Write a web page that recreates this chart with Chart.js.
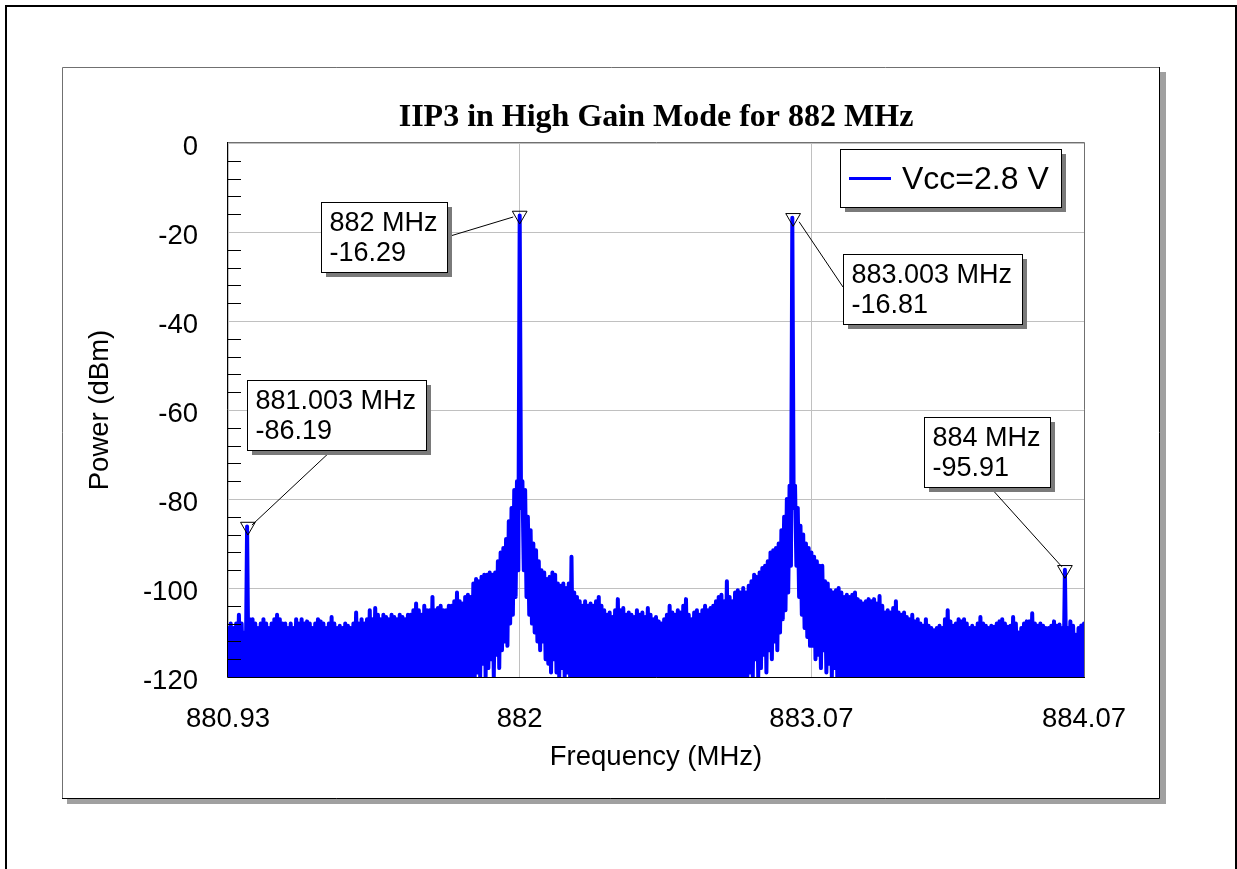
<!DOCTYPE html>
<html>
<head>
<meta charset="utf-8">
<title>IIP3 in High Gain Mode for 882 MHz</title>
<script src="https://cdn.jsdelivr.net/npm/chart.js@4.4.1/dist/chart.umd.min.js"></script>
<style>
  html, body { margin: 0; padding: 0; background: #fff; overflow: hidden; }
  canvas { display: block; }
</style>
</head>
<body>
<canvas id="chart" width="1237" height="869"></canvas>
<script>
// analyser sweep: one bin every 10 kHz starting at 880.93 MHz
const sweepStartMHz = 880.93;
const sweepStepMHz = 0.01;

// highest reading in each bin (dBm)
const traceHigh = [
  -109, -108, -109, -108, -106, -108, -110, -86.19, -107, -107,
  -108, -109, -108, -107, -108, -109, -108, -107, -106, -107,
  -108, -108, -109, -108, -109, -107, -108, -107, -108, -107.5,
  -108, -109, -108, -107, -107.5, -108, -109, -108, -106.5, -108,
  -109, -108.5, -109, -108, -108.5, -109, -108, -105.5, -108, -107,
  -108, -107, -105, -107, -104.5, -106, -107, -106, -106.5, -107,
  -106, -106.5, -107, -106, -106.5, -107, -106, -106, -105, -103.5,
  -105, -106, -104, -105, -105, -102, -105, -104.5, -104, -105,
  -105, -104, -104, -103, -101, -103, -103.5, -102, -101.5, -102,
  -99, -98, -98.5, -97.5, -97, -97, -96.5, -97, -96.5, -94,
  -92, -91, -89, -85, -82, -78, -76, -16.29, -76, -78,
  -84, -87, -90, -91.5, -94, -96, -96.5, -98, -97.5, -96.5,
  -97, -99, -99.5, -99, -100, -99, -93, -101, -102, -103,
  -104, -103, -104, -103.5, -104, -103, -102, -104, -105, -106,
  -105.5, -106.5, -105, -102.5, -105, -104.5, -106, -105.5, -106, -106.5,
  -105, -106, -105.5, -106.5, -104.5, -106, -107, -106.5, -107.5, -108,
  -107, -106, -104, -105.5, -106, -105, -105.5, -104, -102.5, -106,
  -107, -105.5, -105, -106, -105, -104, -105, -104.5, -104, -103,
  -102, -101.5, -103, -98.5, -102, -103, -101, -100.5, -101, -100,
  -101, -99.5, -98.5, -97, -97.5, -96.5, -95.5, -95, -94, -92,
  -91.5, -91, -90, -87, -84, -80, -77, -16.81, -77, -82,
  -86, -88, -90, -91, -92, -93, -94, -95, -95, -98.5,
  -99, -100.5, -101, -100.5, -100, -101, -102, -101.5, -102, -101.5,
  -101, -102.5, -103, -103.5, -103, -102.5, -103, -102.5, -103.5, -101.8,
  -104, -105.5, -105, -105.5, -104.5, -103, -105.5, -106, -105.5, -106.5,
  -107, -106, -107.5, -107, -108, -108.5, -107, -108.5, -109, -109.5,
  -109, -108.5, -109, -107, -105, -107.5, -108.5, -108, -107, -107.5,
  -107, -108, -109, -108.5, -109, -108, -106.5, -108, -108.5, -109,
  -108.5, -108.7, -108, -107.5, -107, -108, -108.7, -108.5, -106.5, -108,
  -110, -109, -108, -107.5, -107.5, -105.7, -108, -108.5, -108, -108.5,
  -109, -109, -108.5, -107.5, -108.5, -108.2, -109, -95.91, -109, -107.5,
  -108.5, -110.5, -109, -108.4, -108
];

// lowest reading in each bin (dBm); -120 is the bottom of the plot
const traceLow = [
  -120, -120, -120, -120, -120, -120, -120, -120, -120, -120,
  -120, -120, -120, -120, -120, -120, -120, -120, -120, -120,
  -120, -120, -120, -120, -120, -120, -120, -120, -120, -120,
  -120, -120, -120, -120, -120, -120, -120, -120, -120, -120,
  -120, -120, -120, -120, -120, -120, -120, -120, -120, -120,
  -120, -120, -120, -120, -120, -120, -120, -120, -120, -120,
  -120, -120, -120, -120, -120, -120, -120, -120, -120, -120,
  -120, -120, -120, -120, -120, -120, -120, -120, -120, -120,
  -120, -120, -120, -120, -120, -120, -120, -120, -120, -120,
  -120, -119, -120, -117, -120, -118, -116, -120, -115, -118,
  -114, -112, -113, -108, -106, -102, -96, -82, -96, -102,
  -106, -108, -110, -112, -114, -112, -116, -117, -119, -116,
  -119, -120, -118, -120, -119, -120, -120, -120, -120, -120,
  -120, -120, -120, -120, -120, -120, -120, -120, -120, -120,
  -120, -120, -120, -120, -120, -120, -120, -120, -120, -120,
  -120, -120, -120, -120, -120, -120, -120, -120, -120, -120,
  -120, -120, -120, -120, -120, -120, -120, -120, -120, -120,
  -120, -120, -120, -120, -120, -120, -120, -120, -120, -120,
  -120, -120, -120, -120, -120, -120, -120, -120, -120, -120,
  -120, -119, -120, -116, -120, -118, -115, -119, -114, -116,
  -112, -114, -110, -107, -105, -101, -95, -82, -95, -102,
  -106, -109, -111, -113, -113, -116, -115, -118, -114, -119,
  -117, -120, -118, -120, -120, -120, -120, -120, -120, -120,
  -120, -120, -120, -120, -120, -120, -120, -120, -120, -120,
  -120, -120, -120, -120, -120, -120, -120, -120, -120, -120,
  -120, -120, -120, -120, -120, -120, -120, -120, -120, -120,
  -120, -120, -120, -120, -120, -120, -120, -120, -120, -120,
  -120, -120, -120, -120, -120, -120, -120, -120, -120, -120,
  -120, -120, -120, -120, -120, -120, -120, -120, -120, -120,
  -120, -120, -120, -120, -120, -120, -120, -120, -120, -120,
  -120, -120, -120, -120, -120, -120, -120, -120, -120, -120,
  -120, -120, -120, -120, -120
];

// marker readouts
const markerFreq = [881.003, 882, 883.003, 884];
const markerPower = [-86.19, -16.29, -16.81, -95.91];

const xTickValues = [880.93, 882, 883.07, 884.07];
const xTickLabels = ["880.93", "882", "883.07", "884.07"];
const seriesName = "Vcc=2.8 V";

const SANS = "'Liberation Sans', Arial, sans-serif";
const TRACE_BLUE = "#0000ff";
const GRID_GRAY = "#c0c0c0";

// zig-zag high/low per bin, like the analyser draws it
const tracePoints = [];
for (let k = 0; k < traceHigh.length; k++) {
  const f = sweepStartMHz + k * sweepStepMHz;
  tracePoints.push({ x: f, y: traceHigh[k] });
  tracePoints.push({ x: f + sweepStepMHz / 2, y: traceLow[k] });
}

const markerPoints = markerFreq.map((f, i) => ({ x: f, y: markerPower[i] }));

// callout box placement, px relative to the marker
// bx/by: box top-left, sx/sy: leader start on the box, ex/ey: leader end
const calloutPlace = [
  { bx: -1, by: -146.5, sx: 85, sy: 70, ex: 4, ey: -1.5 },
  { bx: -199, by: -13.5, sx: "right", sy: 35, ex: -6.5, ey: 1.5 },
  { bx: 50, by: 36, sx: 0, sy: 33, ex: 6, ey: 4 },
  { bx: -141, by: -153, sx: 66, sy: 70, ex: -3, ey: -3 },
];

function drawBox(ctx, x, y, w, h, shadow) {
  ctx.fillStyle = shadow;
  ctx.fillRect(x + 5, y + 5, w, h);
  ctx.fillStyle = "#fff";
  ctx.fillRect(x, y, w, h);
  ctx.strokeStyle = "#000";
  ctx.lineWidth = 1;
  ctx.strokeRect(Math.round(x) + 0.5, Math.round(y) + 0.5, Math.round(w), Math.round(h));
}

const decorPlugin = {
  id: "decor",
  beforeDraw(chart) {
    const ctx = chart.ctx;
    ctx.save();
    ctx.fillStyle = "#fff";
    ctx.fillRect(0, 0, chart.width, chart.height);
    // outer frame
    ctx.strokeStyle = "#000";
    ctx.lineWidth = 2;
    ctx.strokeRect(6, 6, 1230, 900);
    // panel + drop shadow
    ctx.fillStyle = "#a0a0a0";
    ctx.fillRect(67, 72, 1099, 732);
    ctx.fillStyle = "#fff";
    ctx.fillRect(62, 67, 1098, 731);
    ctx.lineWidth = 1;
    ctx.strokeStyle = "#707070";
    ctx.beginPath();
    ctx.moveTo(62.5, 798);
    ctx.lineTo(62.5, 67.5);
    ctx.lineTo(1160, 67.5);
    ctx.stroke();
    ctx.strokeStyle = "#000";
    ctx.beginPath();
    ctx.moveTo(1159.5, 67);
    ctx.lineTo(1159.5, 798.5);
    ctx.lineTo(62, 798.5);
    ctx.stroke();
    ctx.restore();
  },
  afterDatasetsDraw(chart) {
    const { ctx, chartArea: a, scales } = chart;
    const y = scales.y;
    ctx.save();
    ctx.lineWidth = 1;
    // minor ticks, every 4 dB
    ctx.strokeStyle = "#000";
    ctx.beginPath();
    for (let v = -4; v > -120; v -= 4) {
      if (v % 20 === 0) continue;
      const py = Math.round(y.getPixelForValue(v)) + 0.5;
      ctx.moveTo(a.left, py);
      ctx.lineTo(a.left + 13, py);
    }
    ctx.stroke();
    // plot frame
    ctx.strokeStyle = "#707070";
    ctx.beginPath();
    ctx.moveTo(a.left, a.top - 0.5);
    ctx.lineTo(a.right + 0.5, a.top - 0.5);
    ctx.lineTo(a.right + 0.5, a.bottom);
    ctx.stroke();
    ctx.strokeStyle = "#000";
    ctx.beginPath();
    ctx.moveTo(a.left - 0.5, a.top - 1);
    ctx.lineTo(a.left - 0.5, a.bottom + 0.5);
    ctx.lineTo(a.right + 1, a.bottom + 0.5);
    ctx.stroke();
    ctx.restore();
  },
  afterDraw(chart) {
    const { ctx, chartArea: a, scales } = chart;
    ctx.save();
    ctx.font = "27px " + SANS;
    ctx.textBaseline = "alphabetic";
    ctx.textAlign = "left";

    // marker callouts
    markerFreq.forEach((f, i) => {
      const px = scales.x.getPixelForValue(f);
      const py = scales.y.getPixelForValue(markerPower[i]);
      const line1 = f + " MHz";
      const line2 = markerPower[i].toFixed(2);
      const w = Math.round(Math.max(ctx.measureText(line1).width, ctx.measureText(line2).width) + 18);
      const h = 70;
      const c = calloutPlace[i];
      const bx = Math.round(px + c.bx);
      const by = Math.round(py + c.by);
      const sx = bx + (c.sx === "right" ? w : c.sx);
      const sy = by + c.sy;

      ctx.strokeStyle = "#000";
      ctx.lineWidth = 1;
      ctx.beginPath();
      ctx.moveTo(sx, sy);
      ctx.lineTo(px + c.ex, py + c.ey);
      ctx.stroke();

      drawBox(ctx, bx, by, w, h, "#7a7a7a");
      ctx.fillStyle = "#000";
      ctx.fillText(line1, bx + 8.5, by + 29);
      ctx.fillText(line2, bx + 8.5, by + 59);
    });

    // legend
    const lx = a.right - 244;
    const ly = a.top + 6;
    drawBox(ctx, lx, ly, 221, 58, "#7a7a7a");
    ctx.strokeStyle = TRACE_BLUE;
    ctx.lineWidth = 3;
    ctx.beginPath();
    ctx.moveTo(lx + 9, ly + 29.5);
    ctx.lineTo(lx + 51, ly + 29.5);
    ctx.stroke();
    ctx.font = "32px " + SANS;
    ctx.fillStyle = "#000";
    ctx.fillText(seriesName, lx + 62, ly + 40);
    ctx.restore();
  },
};

Chart.defaults.font.family = SANS;
Chart.defaults.color = "#000";

new Chart(document.getElementById("chart").getContext("2d"), {
  type: "line",
  data: {
    datasets: [
      {
        label: seriesName,
        data: tracePoints,
        borderColor: TRACE_BLUE,
        borderWidth: 4,
        borderJoinStyle: "round",
        borderCapStyle: "round",
        pointRadius: 0,
        tension: 0,
        fill: false,
        clip: 0,
        order: 2,
      },
      {
        label: "markers",
        data: markerPoints,
        showLine: false,
        pointStyle: "triangle",
        rotation: 180,
        pointRadius: 8.5,
        pointBorderColor: "#000",
        pointBorderWidth: 1,
        pointBackgroundColor: "rgba(255,255,255,0)",
        order: 1,
      },
    ],
  },
  options: {
    responsive: false,
    devicePixelRatio: 1,
    animation: false,
    events: [],
    layout: { padding: { left: 0, right: 153, top: 0, bottom: 0 } },
    plugins: {
      legend: { display: false },
      tooltip: { enabled: false },
      title: {
        display: true,
        fullSize: false,
        text: "IIP3 in High Gain Mode for 882 MHz",
        color: "#000",
        font: { family: "'Liberation Serif', 'Times New Roman', serif", size: 32, weight: "bold" },
        padding: { top: 98.3, bottom: 6.3 },
      },
    },
    scales: {
      x: {
        type: "linear",
        min: 880.93,
        max: 884.07,
        afterBuildTicks: (scale) => {
          scale.ticks = xTickValues.map((v) => ({ value: v }));
        },
        afterFit: (scale) => {
          scale.height = 192;
        },
        grid: { color: GRID_GRAY, lineWidth: 1, drawTicks: false },
        border: { display: false },
        ticks: {
          autoSkip: false,
          maxRotation: 0,
          minRotation: 0,
          padding: 26,
          font: { size: 27.5 },
          callback: (value, index) => xTickLabels[index],
        },
        title: {
          display: true,
          text: "Frequency (MHz)",
          font: { size: 27.5 },
          padding: { top: 0, bottom: 95.5 },
        },
      },
      y: {
        min: -120,
        max: 0,
        afterFit: (scale) => {
          scale.width = 228;
        },
        grid: { color: GRID_GRAY, lineWidth: 1, drawTicks: false },
        border: { display: false },
        ticks: {
          stepSize: 20,
          padding: 30,
          labelOffset: 4,
          font: { size: 27.5 },
        },
        title: {
          display: true,
          text: "Power (dBm)",
          font: { size: 27.5 },
          padding: { top: 83.5, bottom: 0 },
        },
      },
    },
  },
  plugins: [decorPlugin],
});
</script>
</body>
</html>
